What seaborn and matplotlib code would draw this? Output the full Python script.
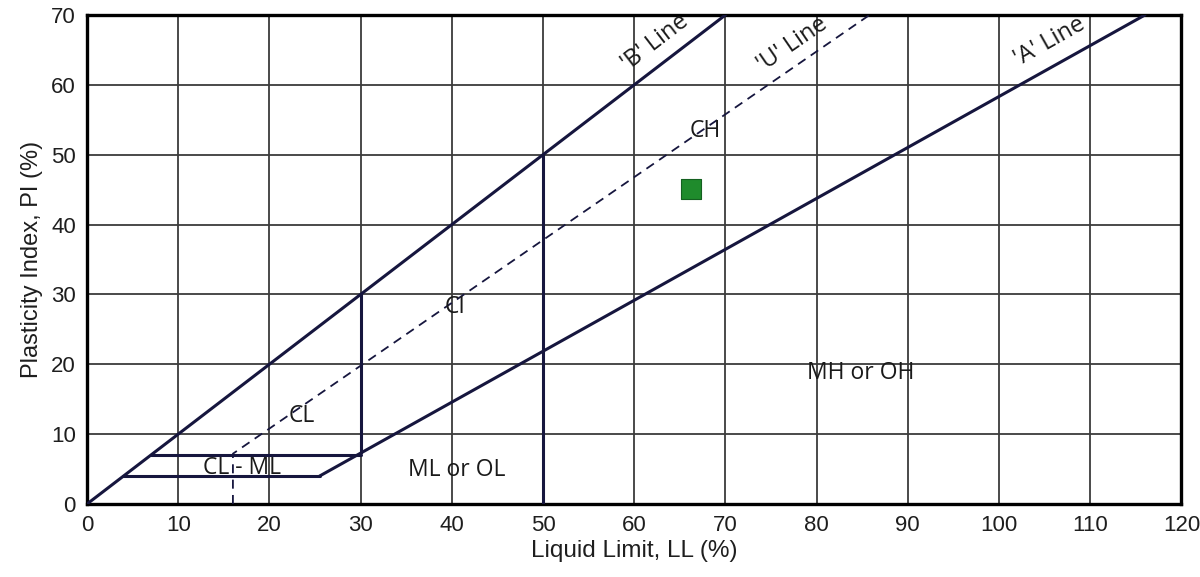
import matplotlib
matplotlib.use("Agg")
import matplotlib.pyplot as plt
import seaborn as sns
import pandas as pd

# ---- data ----
b_line_ll = [0, 70]
b_line_pi = [0, 70]
a_line_ll = [25.5, 116]
a_line_pi = [4, 70]
u_line_ll = [16, 16, 85.8]
u_line_pi = [0, 7.2, 70]
hline7_ll = [7, 30]
hline7_pi = [7, 7]
hline4_ll = [4, 25.5]
hline4_pi = [4, 4]
vline30_ll = [30, 30]
vline30_pi = [7.3, 30]
vline50_ll = [50, 50]
vline50_pi = [0, 50]
sample_ll = [66.2]
sample_pi = [45.1]

x_ticks = [0, 10, 20, 30, 40, 50, 60, 70, 80, 90, 100, 110, 120]
y_ticks = [0, 10, 20, 30, 40, 50, 60, 70]

region_labels = ["CH", "CI", "CL", "CL - ML", "ML or OL", "MH or OH"]
region_ll = [67.8, 40.3, 23.5, 17.0, 40.5, 84.8]
region_pi = [53.4, 28.2, 12.6, 5.2, 4.9, 18.8]

line_labels = ["'B' Line", "'U' Line", "'A' Line"]
line_label_ll = [62.3, 77.3, 105.6]
line_label_pi = [66.0, 65.8, 66.2]
line_label_rot = [37.5, 34.5, 29.5]

# ---- figure ----
sns.set_theme(style="white")
plt.rcParams['font.family'] = ['Liberation Sans', 'DejaVu Sans']

fig = plt.figure(figsize=(12, 5.77), dpi=100)
ax = fig.add_axes([0.0725, 0.1265, 0.912, 0.8475])

navy = "#16163e"
lw = 2.2

for xs, ys in [(b_line_ll, b_line_pi), (a_line_ll, a_line_pi),
               (hline7_ll, hline7_pi), (hline4_ll, hline4_pi),
               (vline30_ll, vline30_pi), (vline50_ll, vline50_pi)]:
    sns.lineplot(x=xs, y=ys, ax=ax, sort=False, estimator=None,
                 color=navy, linewidth=lw, zorder=3)

sns.lineplot(x=u_line_ll, y=u_line_pi, ax=ax, sort=False, estimator=None,
             color=navy, linewidth=1.3, linestyle=(0, (5, 3.5)), zorder=3)

sns.scatterplot(x=sample_ll, y=sample_pi, ax=ax, marker="s", s=200,
                color="#1f8b2c", edgecolor="#146020", linewidth=0.8, zorder=4)

ax.set_xlim(0, 120)
ax.set_ylim(0, 70)
ax.set_xticks(x_ticks)
ax.set_yticks(y_ticks)
ax.grid(True, color="#3c3c3c", linewidth=1.3)
ax.set_axisbelow(True)
for sp in ax.spines.values():
    sp.set_color("black")
    sp.set_linewidth(2.4)
ax.tick_params(axis="both", length=0, labelsize=16, colors="#1e1e1e", pad=8)

ax.set_xlabel("Liquid Limit, LL (%)", fontsize=17.5, color="#1e1e1e", labelpad=3)
ax.set_ylabel("Plasticity Index, PI (%)", fontsize=17, color="#1e1e1e", labelpad=6)

for lab, x, y in zip(region_labels, region_ll, region_pi):
    ax.text(x, y, lab, fontsize=16.5, family=['Open Sans', 'DejaVu Sans'],
            color="#1a1a1a", ha="center", va="center", zorder=5)

for lab, x, y, r in zip(line_labels, line_label_ll, line_label_pi, line_label_rot):
    ax.text(x, y, lab, fontsize=17, family=['Open Sans', 'DejaVu Sans'],
            color="#1a1a1a", ha="center", va="center",
            rotation=r, rotation_mode="anchor", zorder=5)

fig.savefig("out.png", dpi=100)
